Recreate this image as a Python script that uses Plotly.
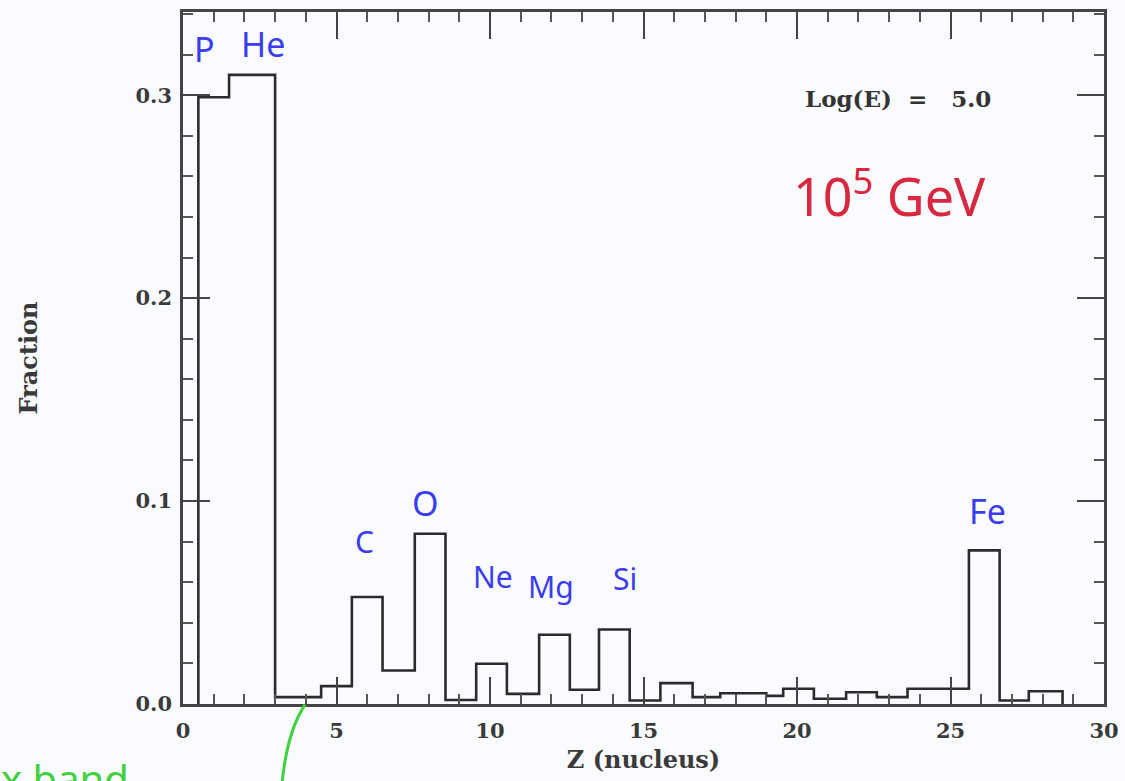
import plotly.graph_objects as go

# ---- data ----
bin_edges = [0.5, 1.5, 3.0, 4.5, 5.5, 6.5, 7.55, 8.55, 9.55, 10.55, 11.6, 12.6,
             13.55, 14.55, 15.55, 16.6, 17.5, 19.0, 19.55, 20.55, 21.6, 22.6,
             23.6, 24.6, 25.6, 26.6, 27.55, 28.65]
fractions = [0.299, 0.31, 0.0034, 0.0088, 0.0527, 0.0165, 0.0839, 0.002, 0.0198,
             0.005, 0.0341, 0.007, 0.0367, 0.0017, 0.0103, 0.0034, 0.0053, 0.004,
             0.0075, 0.0026, 0.0058, 0.0034, 0.0075, 0.0075, 0.0757, 0.0017, 0.0063]

element_labels = ["C", "O", "Ne", "Mg", "Si", "Fe"]
element_x = [5.9, 7.9, 10.1, 12.0, 14.4, 26.2]
element_y = [0.080, 0.099, 0.063, 0.058, 0.062, 0.095]

x_ticks = [0, 5, 10, 15, 20, 25, 30]
y_ticks = [0.0, 0.1, 0.2, 0.3]
y_tick_text = ["0.0", "0.1", "0.2", "0.3"]

# step outline of histogram
xs = [bin_edges[0]] + bin_edges
ys = [0] + fractions + [0]

fig = go.Figure()
fig.add_trace(go.Scatter(x=xs, y=ys, mode="lines", line_shape="hv",
                         line=dict(color="#2b2b2b", width=2.6),
                         hoverinfo="skip", showlegend=False))

serif = "DejaVu Serif"
hand = "Noto Sans"
blue = "#3a3cf0"

annotations = []
for lab, ex, ey in zip(element_labels, element_x, element_y):
    annotations.append(dict(x=ex, y=ey, text=lab, showarrow=False,
                            font=dict(family=hand, size=34 if lab in ("Fe", "O") else 30, color=blue)))
annotations.append(dict(x=0.7, y=0.323, text="P", showarrow=False,
                        font=dict(family=hand, size=34, color=blue)))
annotations.append(dict(x=2.6, y=0.325, text="He", showarrow=False,
                        font=dict(family=hand, size=34, color=blue)))
annotations.append(dict(x=23.3, y=0.2985, text="Log(E)  =   5.0", showarrow=False,
                        font=dict(family=serif, size=23, color="#333333", weight="bold")))
annotations.append(dict(x=23.0, y=0.252, text="10<sup>5</sup> GeV", showarrow=False,
                        font=dict(family=hand, size=52, color="#d8283f")))
annotations.append(dict(x=-0.2, y=-0.065, xref="paper", yref="paper", text="x band",
                        xanchor="left", yanchor="top", showarrow=False,
                        font=dict(family=hand, size=40, color="#3fd13f")))

fig.update_layout(
    width=1125, height=781,
    margin=dict(l=183, r=21, t=12, b=77),
    paper_bgcolor="#fafbfe", plot_bgcolor="#fafbfe",
    annotations=annotations,
    shapes=[dict(type="path", xref="paper", yref="paper",
                 path="M 0.1325 -0.001 Q 0.113 -0.04 0.1075 -0.115",
                 line=dict(color="#3fd13f", width=3))],
    xaxis=dict(range=[0, 30], tickvals=x_ticks, ticks="inside", ticklen=27,
               tickwidth=2, tickcolor="#444", showline=True, linecolor="#444",
               linewidth=2.5, mirror="ticks", showgrid=False, zeroline=False,
               ticklabelstandoff=6, automargin=False,
               minor=dict(dtick=1, ticks="inside", ticklen=10, tickwidth=2, tickcolor="#555"),
               tickfont=dict(family=serif, size=21, color="#3a3a3a", weight="bold"),
               title=dict(text="Z (nucleus)", standoff=10,
                          font=dict(family=serif, size=24, color="#3a3a3a", weight="bold"))),
    yaxis=dict(range=[0, 0.341], tickvals=y_ticks, ticktext=y_tick_text, ticks="inside",
               ticklen=27, tickwidth=2, tickcolor="#444", showline=True, linecolor="#444",
               linewidth=2.5, mirror="ticks", showgrid=False, zeroline=False,
               ticklabelstandoff=4, automargin=False,
               minor=dict(dtick=0.02, ticks="inside", ticklen=10, tickwidth=2, tickcolor="#555"),
               tickfont=dict(family=serif, size=21, color="#3a3a3a", weight="bold"),
               title=dict(text="Fraction", standoff=92,
                          font=dict(family=serif, size=24, color="#3a3a3a", weight="bold"))),
)

fig.write_html("out.html")
